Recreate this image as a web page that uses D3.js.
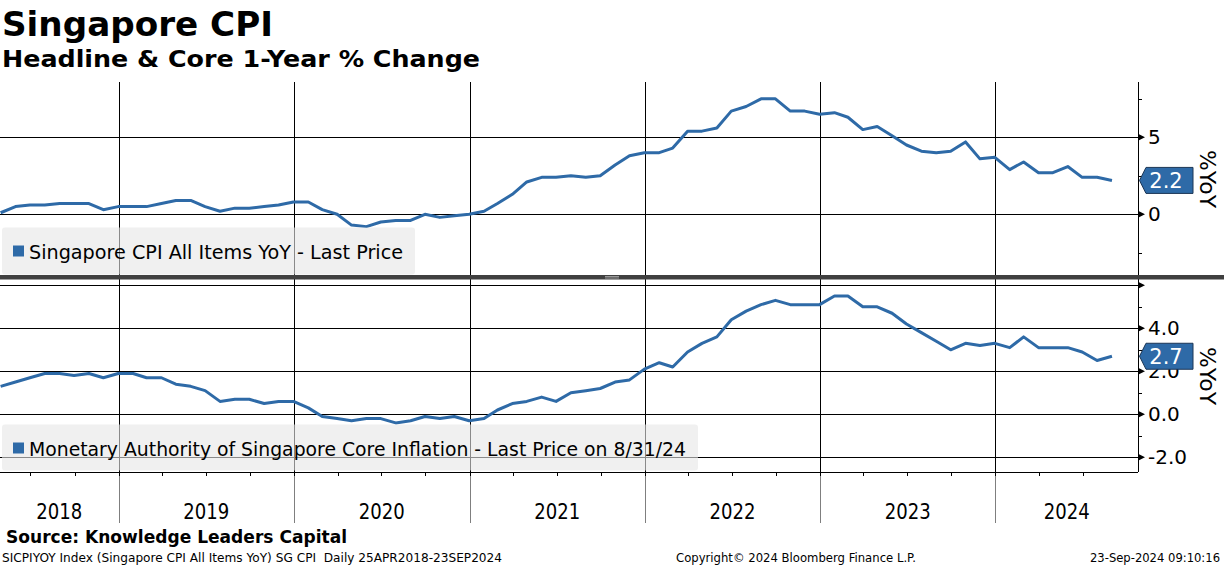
<!DOCTYPE html>
<html><head><meta charset="utf-8">
<script src="https://cdn.jsdelivr.net/npm/d3@7"></script>
<style>
body{margin:0;background:#fff}
svg{display:block}
text{font-family:"DejaVu Sans",Verdana,sans-serif;fill:#000;white-space:pre}
</style>
</head><body>
<svg id="c" width="1224" height="566"></svg>
<script>
// ---------- data ----------
const firstMonth = {year: 2018, month: 4}; // April 2018, monthly observations
const headline = [
  0.1,0.5,0.6,0.6,0.7,0.7,0.7,0.3,0.5,
  0.5,0.5,0.7,0.9,0.9,0.5,0.2,0.4,0.4,0.5,0.6,0.8,
  0.8,0.3,0.0,-0.7,-0.8,-0.5,-0.4,-0.4,0.0,-0.2,-0.1,0.0,
  0.2,0.7,1.3,2.1,2.4,2.4,2.5,2.4,2.5,3.2,3.8,4.0,
  4.0,4.3,5.4,5.4,5.6,6.7,7.0,7.5,7.5,6.7,6.7,6.5,
  6.6,6.3,5.5,5.7,5.1,4.5,4.1,4.0,4.1,4.7,3.6,3.7,
  2.9,3.4,2.7,2.7,3.1,2.4,2.4,2.2
];
const core = [
  1.3,1.5,1.7,1.9,1.9,1.8,1.9,1.7,1.9,
  1.9,1.7,1.7,1.4,1.3,1.1,0.6,0.7,0.7,0.5,0.6,0.6,
  0.3,-0.1,-0.2,-0.3,-0.2,-0.2,-0.4,-0.3,-0.1,-0.2,-0.1,-0.3,
  -0.2,0.2,0.5,0.6,0.8,0.6,1.0,1.1,1.2,1.5,1.6,2.1,
  2.4,2.2,2.9,3.3,3.6,4.4,4.8,5.1,5.3,5.1,5.1,5.1,
  5.5,5.5,5.0,5.0,4.7,4.2,3.8,3.4,3.0,3.3,3.2,3.3,
  3.1,3.6,3.1,3.1,3.1,2.9,2.5,2.7
];
const yearLabels = ["2018","2019","2020","2021","2022","2023","2024"];
const topTicks = [0, 5];
const topMinor = [-2.5, 2.5, 7.5];
const botTicks = [-2, 0, 2, 4, 6];
const botLabelTicks = [-2, 0, 2, 4];
const botMinor = [-1, 1, 3, 5];
const lastTop = "2.2", lastBot = "2.7";

// ---------- layout ----------
const W = 1224, H = 566;
const PX0 = 0, PX1 = 1138;
const TOP = {y0: 82, y1: 275};
const BOT = {y0: 279, y1: 472};
const BLUE = "#2e6aa7";

const svg = d3.select("#c");

const dates = headline.map((_, i) => new Date(firstMonth.year, firstMonth.month - 1 + i + 1, 0));

const x = d3.scaleTime()
  .domain([new Date(2019,0,1), new Date(2024,0,1)])
  .range([118.7, 995.3]);
const yTop = d3.scaleLinear().domain([0,5]).range([214.3,137.3]);
const yBot = d3.scaleLinear().domain([0,4]).range([414.3,328.3]);

function fitText(sel, w){ sel.attr("textLength", w).attr("lengthAdjust","spacingAndGlyphs"); return sel; }

// ---------- titles ----------
fitText(svg.append("text").attr("x",2).attr("y",36).attr("font-size",33).attr("font-weight","bold").text("Singapore CPI"), 271);
fitText(svg.append("text").attr("x",2).attr("y",67).attr("font-size",23).attr("font-weight","bold").text("Headline & Core 1-Year % Change"), 478);

// ---------- grid ----------
const yearStarts = d3.timeYear.range(new Date(2019,0,1), new Date(2025,0,1));
const grid = svg.append("g").attr("stroke","#000").attr("stroke-width",1).attr("shape-rendering","crispEdges");
yearStarts.forEach(d => {
  const xx = Math.round(x(d)) + 0.5;
  grid.append("line").attr("x1",xx).attr("x2",xx).attr("y1",TOP.y0).attr("y2",TOP.y1);
  grid.append("line").attr("x1",xx).attr("x2",xx).attr("y1",BOT.y0).attr("y2",BOT.y1);
  svg.append("line").attr("x1",xx).attr("x2",xx).attr("y1",BOT.y1).attr("y2",523)
    .attr("stroke","#7f7f7f").attr("stroke-width",1.3).attr("shape-rendering","crispEdges");
});
topTicks.forEach(v => {
  const yy = Math.round(yTop(v)) + 0.5;
  grid.append("line").attr("x1",PX0).attr("x2",PX1).attr("y1",yy).attr("y2",yy);
});
botTicks.forEach(v => {
  const yy = Math.round(yBot(v)) + 0.5;
  grid.append("line").attr("x1",PX0).attr("x2",PX1).attr("y1",yy).attr("y2",yy);
});

// ---------- lines ----------
svg.append("defs").call(d => {
  d.append("clipPath").attr("id","ct").append("rect").attr("x",PX0).attr("y",TOP.y0).attr("width",PX1-PX0).attr("height",TOP.y1-TOP.y0);
  d.append("clipPath").attr("id","cb").append("rect").attr("x",PX0).attr("y",BOT.y0).attr("width",PX1-PX0).attr("height",BOT.y1-BOT.y0);
});
svg.append("path").datum(headline).attr("clip-path","url(#ct)")
  .attr("fill","none").attr("stroke",BLUE).attr("stroke-width",3).attr("stroke-linejoin","round")
  .attr("d", d3.line().x((d,i)=>x(dates[i])).y(d=>yTop(d)));
svg.append("path").datum(core).attr("clip-path","url(#cb)")
  .attr("fill","none").attr("stroke",BLUE).attr("stroke-width",3).attr("stroke-linejoin","round")
  .attr("d", d3.line().x((d,i)=>x(dates[i])).y(d=>yBot(d)));

// ---------- legends ----------
function legend(x0, y0, w, h, label, textW, baseline, markY){
  svg.append("rect").attr("x",x0).attr("y",y0).attr("width",w).attr("height",h).attr("rx",3)
    .attr("fill","#e6e6e6").attr("fill-opacity",0.6);
  svg.append("rect").attr("x",13).attr("y",markY).attr("width",11).attr("height",11).attr("fill",BLUE);
  fitText(svg.append("text").attr("x",29).attr("y",baseline).attr("font-size",20).text(label), textW);
}
legend(2, 227.5, 413, 47, "Singapore CPI All Items YoY - Last Price", 374, 259, 245.5);
legend(2, 424.5, 696, 46, "Monetary Authority of Singapore Core Inflation - Last Price on 8/31/24", 657, 456, 442.5);

// ---------- x axis ----------
const quarterTicks = d3.timeMonth.range(new Date(2018,6,1), new Date(2024,9,1), 3);
const xAxis = svg.append("g").attr("transform",`translate(0,${BOT.y1})`)
  .call(d3.axisBottom(x).tickValues(quarterTicks).tickSize(4).tickFormat(""));
xAxis.select(".domain").remove();
xAxis.selectAll("line").attr("stroke","#000").attr("shape-rendering","crispEdges");
svg.append("line").attr("x1",PX0).attr("x2",PX1).attr("y1",BOT.y1+0.5).attr("y2",BOT.y1+0.5)
  .attr("stroke","#000").attr("shape-rendering","crispEdges");

const bounds = [PX0, ...yearStarts.map(d=>x(d)), PX1];
yearLabels.forEach((lab,i) => {
  fitText(svg.append("text").attr("x",(bounds[i]+bounds[i+1])/2 - 23).attr("y",519)
    .attr("font-size",21).text(lab), 46);
});

// ---------- right axes ----------
svg.append("line").attr("x1",PX1+0.5).attr("x2",PX1+0.5).attr("y1",TOP.y0).attr("y2",BOT.y1)
  .attr("stroke","#000").attr("shape-rendering","crispEdges");

function rightAxis(scale, labelTicks, arrowTicks, minor, fmt){
  const g = svg.append("g").attr("transform",`translate(${PX1},0)`)
    .call(d3.axisRight(scale).tickValues(labelTicks).tickSize(0).tickPadding(10).tickFormat(fmt));
  g.select(".domain").remove();
  g.selectAll("text").attr("font-size",20).attr("font-family","DejaVu Sans, sans-serif").attr("fill","#000");
  arrowTicks.forEach(v => {
    const yy = scale(v);
    svg.append("path").attr("d",`M${PX1},${yy-3.5}L${PX1+7},${yy}L${PX1},${yy+3.5}Z`).attr("fill","#000");
  });
  minor.forEach(v => {
    const yy = Math.round(scale(v))+0.5;
    svg.append("line").attr("x1",PX1).attr("x2",PX1+4).attr("y1",yy).attr("y2",yy)
      .attr("stroke","#000").attr("shape-rendering","crispEdges");
  });
}
rightAxis(yTop, topTicks, topTicks, topMinor, v => String(v));
rightAxis(yBot, botLabelTicks, botTicks, botMinor, v => v.toFixed(1));

// %YoY labels
[179, 376].forEach(cy => {
  fitText(svg.append("text").attr("transform",`translate(1200,${cy}) rotate(90)`)
    .attr("text-anchor","middle").attr("font-size",22).text("%YoY"), 58);
});

// ---------- last value tags ----------
function tag(yy, label){
  const xl = PX1 + 1.5, xb = 1146, xr = 1193, h = 13;
  svg.append("path").attr("d",`M${xl},${yy}L${xb},${yy-h}L${xr},${yy-h}L${xr},${yy+h}L${xb},${yy+h}Z`)
    .attr("fill",BLUE).attr("stroke","#1c3655").attr("stroke-width",1);
  svg.append("text").attr("x",1166).attr("y",yy+7.5).attr("text-anchor","middle")
    .attr("font-size",21).style("fill","#fff").text(label);
}
tag(yTop(+lastTop), lastTop);
tag(yBot(+lastBot), lastBot);

// ---------- separator ----------
svg.append("rect").attr("x",0).attr("y",275).attr("width",W).attr("height",4.5).attr("fill","#404040");
svg.append("line").attr("x1",605).attr("x2",619).attr("y1",276.5).attr("y2",276.5).attr("stroke","#b0b0b0").attr("stroke-width",0.8);
svg.append("line").attr("x1",605).attr("x2",619).attr("y1",278).attr("y2",278).attr("stroke","#b0b0b0").attr("stroke-width",0.8);

// ---------- footer ----------
fitText(svg.append("text").attr("x",6).attr("y",543).attr("font-size",18.5).attr("font-weight","bold").text("Source: Knowledge Leaders Capital"), 341);
fitText(svg.append("text").attr("x",2).attr("y",561.5).attr("font-size",12.5).text("SICPIYOY Index (Singapore CPI All Items YoY) SG CPI  Daily 25APR2018-23SEP2024"), 500);
fitText(svg.append("text").attr("x",676).attr("y",561.5).attr("font-size",12.5).text("Copyright\u00A9 2024 Bloomberg Finance L.P."), 240);
fitText(svg.append("text").attr("x",1090).attr("y",561.5).attr("font-size",12.5).text("23-Sep-2024 09:10:16"), 130);
</script>
</body></html>
